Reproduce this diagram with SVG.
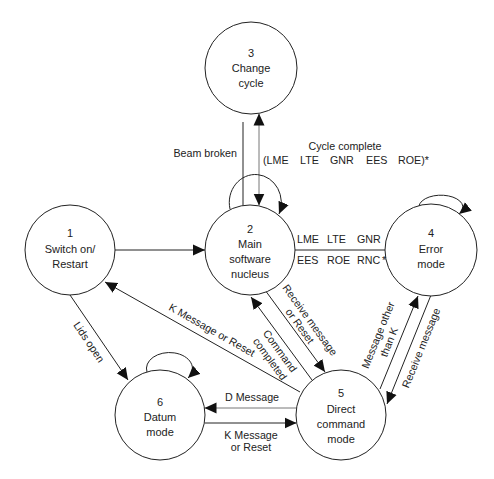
<svg xmlns="http://www.w3.org/2000/svg" width="494" height="479" viewBox="0 0 494 479">
<style>
.node circle{fill:#fff;stroke:#222;stroke-width:1}
text{font-family:"Liberation Sans",Arial,sans-serif;fill:#222}
.nt{font-size:11px;text-anchor:middle}
.lb{font-size:10.7px}
.mid{text-anchor:middle}
.c path{fill:none;stroke:#222;stroke-width:1}
.c path.g{stroke:#777}
</style>
<defs>
<marker id="ah" markerUnits="userSpaceOnUse" markerWidth="13" markerHeight="12" refX="12" refY="5.5" orient="auto-start-reverse" viewBox="0 0 13 11">
<path d="M0,0 L12,5.5 L0,11 z" fill="#111"/>
</marker>
</defs>
<rect width="494" height="479" fill="#fff"/>
<g class="c" id="connectors">
<path d="M115 250 L205 250" marker-end="url(#ah)"/>
<path class="g" d="M259 113.5 L259 205.5" marker-start="url(#ah)" marker-end="url(#ah)"/>
<path d="M243 122 L243 205.5"/>
<path d="M230 209 A26 28 0 1 1 279 214" marker-end="url(#ah)"/>
<path d="M295 250 L385 250"/>
<path d="M419 206 A22 12 0 1 1 459 214" marker-end="url(#ah)"/>
<path d="M147 372 A23 16 0 1 1 188 378" marker-end="url(#ah)"/>
<path d="M70 295 L128 380" marker-end="url(#ah)"/>
<path d="M300 392 L105 282" marker-end="url(#ah)"/>
<path d="M265 290 L325 372" marker-end="url(#ah)"/>
<path d="M312 380 L251 297" marker-end="url(#ah)"/>
<path d="M380 389 L418 296" marker-end="url(#ah)"/>
<path d="M431 295 L387 404" marker-end="url(#ah)"/>
<path class="g" d="M296.5 408 L204.5 408" marker-end="url(#ah)"/>
<path d="M204.5 423 L296.5 423" marker-end="url(#ah)"/>
</g>
<g id="n3" class="node"><circle cx="251" cy="68" r="46"/>
<text class="nt" x="251" y="57">3</text><text class="nt" x="251" y="72">Change</text><text class="nt" x="251" y="87">cycle</text></g>
<g id="n2" class="node"><circle cx="250" cy="250" r="45"/>
<text class="nt" x="250" y="233">2</text><text class="nt" x="250" y="248">Main</text><text class="nt" x="250" y="263">software</text><text class="nt" x="250" y="278">nucleus</text></g>
<g id="n1" class="node"><circle cx="70" cy="250" r="45"/>
<text class="nt" x="70" y="237">1</text><text class="nt" x="70" y="253">Switch on/</text><text class="nt" x="70" y="268">Restart</text></g>
<g id="n4" class="node"><circle cx="431" cy="250" r="46"/>
<text class="nt" x="431" y="237">4</text><text class="nt" x="431" y="253">Error</text><text class="nt" x="431" y="268">mode</text></g>
<g id="n5" class="node"><circle cx="341" cy="415" r="45"/>
<text class="nt" x="341" y="397">5</text><text class="nt" x="341" y="413">Direct</text><text class="nt" x="341" y="428">command</text><text class="nt" x="341" y="443">mode</text></g>
<g id="n6" class="node"><circle cx="160" cy="415" r="45"/>
<text class="nt" x="160" y="406">6</text><text class="nt" x="160" y="421">Datum</text><text class="nt" x="160" y="436">mode</text></g>
<g id="labels">
<text class="lb" x="237" y="157" text-anchor="end">Beam broken</text>
<text class="lb mid" x="345" y="150">Cycle complete</text>
<text class="lb" y="164"><tspan x="263">(LME</tspan><tspan x="300">LTE</tspan><tspan x="330">GNR</tspan><tspan x="366">EES</tspan><tspan x="398">ROE)*</tspan></text>
<text class="lb" y="243"><tspan x="297">LME</tspan><tspan x="327">LTE</tspan><tspan x="357">GNR</tspan></text>
<text class="lb" y="264"><tspan x="297">EES</tspan><tspan x="327">ROE</tspan><tspan x="357">RNC</tspan><tspan x="382">*</tspan></text>
<text class="lb mid" dy="0.35em" transform="translate(89 342) rotate(56)">Lids open</text>
<text class="lb mid" dy="0.35em" transform="translate(212 330) rotate(29.4)">K Message or Reset</text>
<text class="lb mid" dy="0.35em" transform="translate(310 320) rotate(54)">Receive message</text>
<text class="lb mid" dy="0.35em" transform="translate(300 326) rotate(54)">or Reset</text>
<text class="lb mid" dy="0.35em" transform="translate(280 351) rotate(54)">Command</text>
<text class="lb mid" dy="0.35em" transform="translate(270 359) rotate(54)">completed</text>
<text class="lb mid" dy="0.35em" transform="translate(378 335) rotate(-68)">Message other</text>
<text class="lb mid" dy="0.35em" transform="translate(389 342) rotate(-68)">than K</text>
<text class="lb mid" dy="0.35em" transform="translate(421 348) rotate(-68)">Receive message</text>
<text class="lb" x="225" y="401">D Message</text>
<text class="lb mid" x="251" y="439">K Message</text>
<text class="lb mid" x="251" y="451">or Reset</text>
</g>
</svg>
